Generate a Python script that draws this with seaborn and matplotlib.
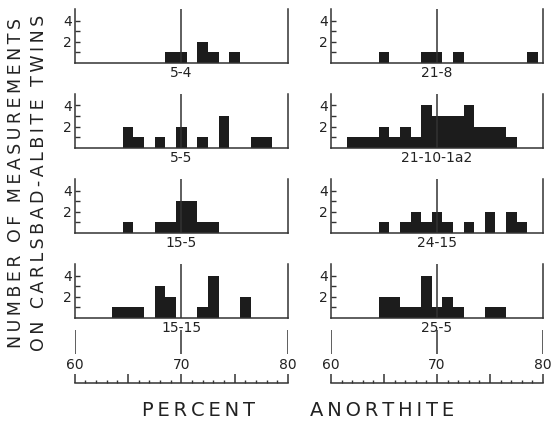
import matplotlib
matplotlib.use("Agg")
import matplotlib.pyplot as plt
import seaborn as sns

sns.set_style("ticks")
plt.rcParams['font.family'] = ['DejaVu Sans']

# bins are 1 % An wide, centred on whole numbers
p54_x = [69, 70, 72, 73, 75]
p54_n = [1, 1, 2, 1, 1]
p55_x = [65, 66, 68, 70, 72, 74, 77, 78]
p55_n = [2, 1, 1, 2, 1, 3, 1, 1]
p155_x = [65, 68, 69, 70, 71, 72, 73]
p155_n = [1, 1, 1, 3, 3, 1, 1]
p1515_x = [64, 65, 66, 68, 69, 72, 73, 76]
p1515_n = [1, 1, 1, 3, 2, 1, 4, 2]
p218_x = [65, 69, 70, 72, 79]
p218_n = [1, 1, 1, 1, 1]
p2110_x = [62, 63, 64, 65, 66, 67, 68, 69, 70, 71, 72, 73, 74, 75, 76, 77]
p2110_n = [1, 1, 1, 2, 1, 2, 1, 4, 3, 3, 3, 4, 2, 2, 2, 1]
p2415_x = [65, 67, 68, 69, 70, 71, 73, 75, 77, 78]
p2415_n = [1, 1, 2, 1, 2, 1, 1, 2, 2, 1]
p255_x = [65, 66, 67, 68, 69, 70, 71, 72, 75, 76]
p255_n = [2, 2, 1, 1, 4, 1, 2, 1, 1, 1]

left_panels = [("5-4", p54_x, p54_n), ("5-5", p55_x, p55_n),
               ("15-5", p155_x, p155_n), ("15-15", p1515_x, p1515_n)]
right_panels = [("21-8", p218_x, p218_n), ("21-10-1a2", p2110_x, p2110_n),
                ("24-15", p2415_x, p2415_n), ("25-5", p255_x, p255_n)]
scale_ticks = [60, 70, 80]

W, H = 560, 434
INK = '#222222'
LINE = '#333333'
fig = plt.figure(figsize=(W / 100, H / 100), dpi=100)


def px_axes(x0, x1, ybase, ytop):
    return fig.add_axes([x0 / W, 1 - ybase / H, (x1 - x0) / W, (ybase - ytop) / H])


baselines = [62.6, 147.5, 232.8, 317.8]
columns = [(74.5, 288, left_panels), (331, 543, right_panels)]
ymax = 5.1
unit = 10.5

for x0, x1, panels in columns:
    for base, (name, xs, ns) in zip(baselines, panels):
        ax = px_axes(x0, x1, base, base - ymax * unit)
        sns.histplot(x=xs, weights=ns, discrete=True, ax=ax, color='#1c1c1c',
                     alpha=1, linewidth=0, edgecolor='none')
        ax.axvline(70, color=LINE, lw=1.1)
        ax.set_xlim(60, 80)
        ax.set_ylim(0, ymax)
        ax.set_xlabel('')
        ax.set_ylabel('')
        ax.set_xticks([])
        ax.set_yticks([1, 2, 3, 4])
        ax.set_yticklabels(['', '2', '', '4'], fontsize=10, color=INK)
        ax.tick_params(axis='y', direction='in', length=3.5, width=1, color=LINE, pad=2)
        ax.spines['top'].set_visible(False)
        for s in ['left', 'right', 'bottom']:
            ax.spines[s].set_color(LINE)
            ax.spines[s].set_linewidth(1.1)
        ax.set_facecolor('none')
        ax.text(0.5, -10 / (ymax * unit), name, transform=ax.transAxes,
                ha='center', va='center', fontsize=10, color=INK)

    # percent anorthite scale below each column
    sc = px_axes(x0, x1, 383, 326)
    sc.set_xlim(60, 80)
    sc.set_ylim(0, 57)
    sc.vlines(scale_ticks, 29, 53, color=LINE, lw=1.1)
    for t in scale_ticks:
        sc.text(t, 18, str(t), ha='center', va='center', fontsize=10, color=INK)
    sc.set_xticks(range(60, 81, 5))
    sc.set_xticks(range(60, 81), minor=True)
    sc.set_xticklabels([])
    sc.set_yticks([])
    sc.tick_params(axis='x', which='major', direction='in', length=6.5, width=1.1, color=LINE)
    sc.tick_params(axis='x', which='minor', direction='in', length=2.2, width=1, color=LINE)
    for s in ['left', 'right', 'top']:
        sc.spines[s].set_visible(False)
    sc.spines['bottom'].set_color(LINE)
    sc.spines['bottom'].set_linewidth(1.1)
    sc.set_facecolor('none')


def spaced(s):
    return '\u2009'.join(s)


fig.text(198 / W, 1 - 411 / H, spaced('PERCENT'), ha='center', va='center',
         fontsize=14, color=INK)
fig.text(382 / W, 1 - 411 / H, spaced('ANORTHITE'), ha='center', va='center',
         fontsize=14, color=INK)
fig.text(16 / W, 1 - 183 / H, spaced('NUMBER OF MEASUREMENTS'), rotation=90,
         ha='center', va='center', fontsize=12.5, color=INK)
fig.text(39 / W, 1 - 183 / H, spaced('ON CARLSBAD-ALBITE TWINS'), rotation=90,
         ha='center', va='center', fontsize=12.5, color=INK)

fig.savefig('out.png', dpi=100, facecolor='white')
